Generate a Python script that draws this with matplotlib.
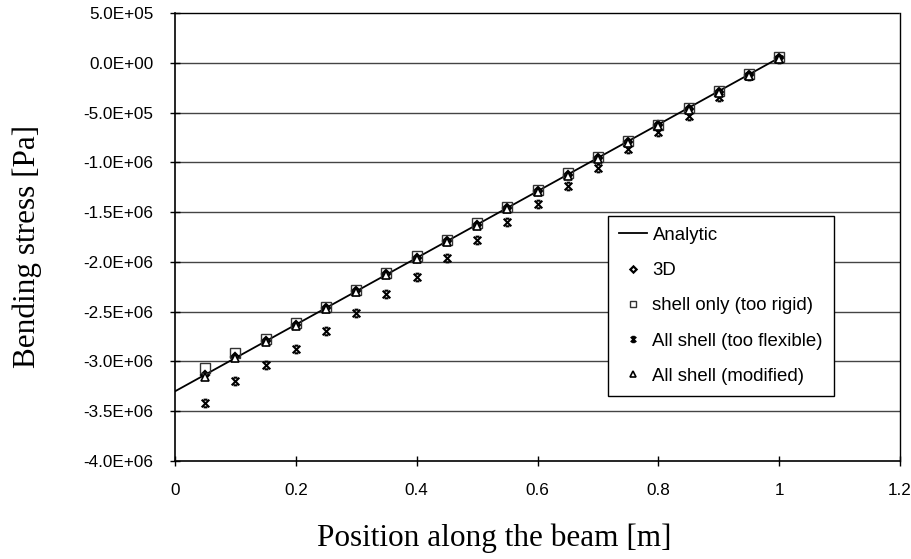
import numpy as np
import matplotlib.pyplot as plt
from matplotlib.path import Path
from matplotlib.ticker import FuncFormatter

# positions along the beam [m]
x_pts = [0.05, 0.10, 0.15, 0.20, 0.25, 0.30, 0.35, 0.40, 0.45, 0.50,
         0.55, 0.60, 0.65, 0.70, 0.75, 0.80, 0.85, 0.90, 0.95, 1.00]

# analytic line end points
x_analytic = [0.0, 1.0]
s_analytic = [-3.30e6, 0.05e6]

# bending stress [Pa]
s_3d = [-3.14e6, -2.96e6, -2.79e6, -2.63e6, -2.46e6, -2.29e6, -2.12e6, -1.96e6, -1.79e6, -1.63e6,
        -1.46e6, -1.29e6, -1.13e6, -0.96e6, -0.80e6, -0.63e6, -0.46e6, -0.29e6, -0.12e6, 0.05e6]
s_rigid = [-3.07e6, -2.92e6, -2.77e6, -2.61e6, -2.45e6, -2.28e6, -2.11e6, -1.94e6, -1.78e6, -1.61e6,
           -1.45e6, -1.28e6, -1.11e6, -0.95e6, -0.79e6, -0.62e6, -0.45e6, -0.28e6, -0.11e6, 0.06e6]
s_flex = [-3.42e6, -3.20e6, -3.04e6, -2.88e6, -2.69e6, -2.51e6, -2.32e6, -2.15e6, -1.96e6, -1.78e6,
          -1.60e6, -1.42e6, -1.24e6, -1.06e6, -0.87e6, -0.70e6, -0.53e6, -0.34e6, -0.13e6, 0.04e6]
s_mod = [-3.16e6, -2.97e6, -2.80e6, -2.64e6, -2.47e6, -2.30e6, -2.13e6, -1.97e6, -1.80e6, -1.64e6,
         -1.47e6, -1.30e6, -1.14e6, -0.97e6, -0.81e6, -0.64e6, -0.47e6, -0.30e6, -0.13e6, 0.04e6]

y_ticks = [5e5, 0, -5e5, -1e6, -1.5e6, -2e6, -2.5e6, -3e6, -3.5e6, -4e6]
x_ticks = [0, 0.2, 0.4, 0.6, 0.8, 1.0, 1.2]

# excel style "x with bars" marker
bar_x = Path([(-1, -1), (1, 1), (-1, 1), (1, -1), (-0.5, 1), (0.5, 1), (-0.5, -1), (0.5, -1)],
             [Path.MOVETO, Path.LINETO] * 4)

sans = "Liberation Sans"
serif = "Liberation Serif"

fig = plt.figure(figsize=(9.12, 5.59), dpi=100)
ax = fig.add_axes([175 / 912, 1 - 461 / 559, 725 / 912, 448 / 559])

for yt in y_ticks[1:-1]:
    ax.axhline(yt, color="#444444", lw=1.0, zorder=1)

ax.plot(x_analytic, s_analytic, color="black", lw=1.3, label="Analytic", zorder=3)
ax.plot(x_pts, s_3d, ls="none", marker="D", ms=4.5, mfc="white", mec="black", mew=1.6,
        label="3D", zorder=4)
ax.plot(x_pts, s_rigid, ls="none", marker="s", ms=6.5, mfc="none", mec="#333333", mew=1.0,
        label="shell only (too rigid)", zorder=4)
ax.plot(x_pts, s_flex, ls="none", marker=bar_x, ms=5.5, mfc="none", mec="black", mew=1.5,
        label="All shell (too flexible)", zorder=4)
ax.plot(x_pts, s_mod, ls="none", marker="^", ms=5.5, mfc="white", mec="black", mew=1.2,
        label="All shell (modified)", zorder=5)

ax.set_xlim(0, 1.2)
ax.set_ylim(-4e6, 5e5)
ax.set_xticks(x_ticks)
ax.set_yticks(y_ticks)
ax.xaxis.set_major_formatter(FuncFormatter(lambda v, p: "0" if v == 0 else ("1" if v == 1 else f"{v:g}")))
ax.yaxis.set_major_formatter(FuncFormatter(lambda v, p: "0.0E+00" if v == 0 else f"{v:.1E}"))
ax.tick_params(direction="inout", length=7, width=1, colors="black", labelsize=12.3)
ax.tick_params(axis="x", pad=12)
ax.tick_params(axis="y", pad=12)
for lab in ax.get_xticklabels() + ax.get_yticklabels():
    lab.set_fontfamily(sans)

for side in ("top", "right"):
    ax.spines[side].set_linestyle((0, (1, 1)))
    ax.spines[side].set_linewidth(1.0)
for side in ("left", "bottom"):
    ax.spines[side].set_linewidth(1.2)

ax.set_xlabel("Position along the beam [m]", fontfamily=serif, fontsize=22.5, labelpad=12)
ax.xaxis.set_label_coords(0.44, -0.14)
ax.set_ylabel("Bending stress [Pa]", fontfamily=serif, fontsize=22.5, labelpad=28)
ax.yaxis.set_label_coords(-0.183, 0.48)

leg = ax.legend(loc="lower left", bbox_to_anchor=(0.597, 0.145), prop={"family": sans, "size": 13.4},
                frameon=True, fancybox=False, edgecolor="black", framealpha=1,
                handlelength=1.5, handletextpad=0.3, borderpad=0.6, labelspacing=0.98,
                markerscale=0.7, borderaxespad=0)
leg.get_frame().set_linewidth(1.0)

fig.savefig("out.png", dpi=100)
